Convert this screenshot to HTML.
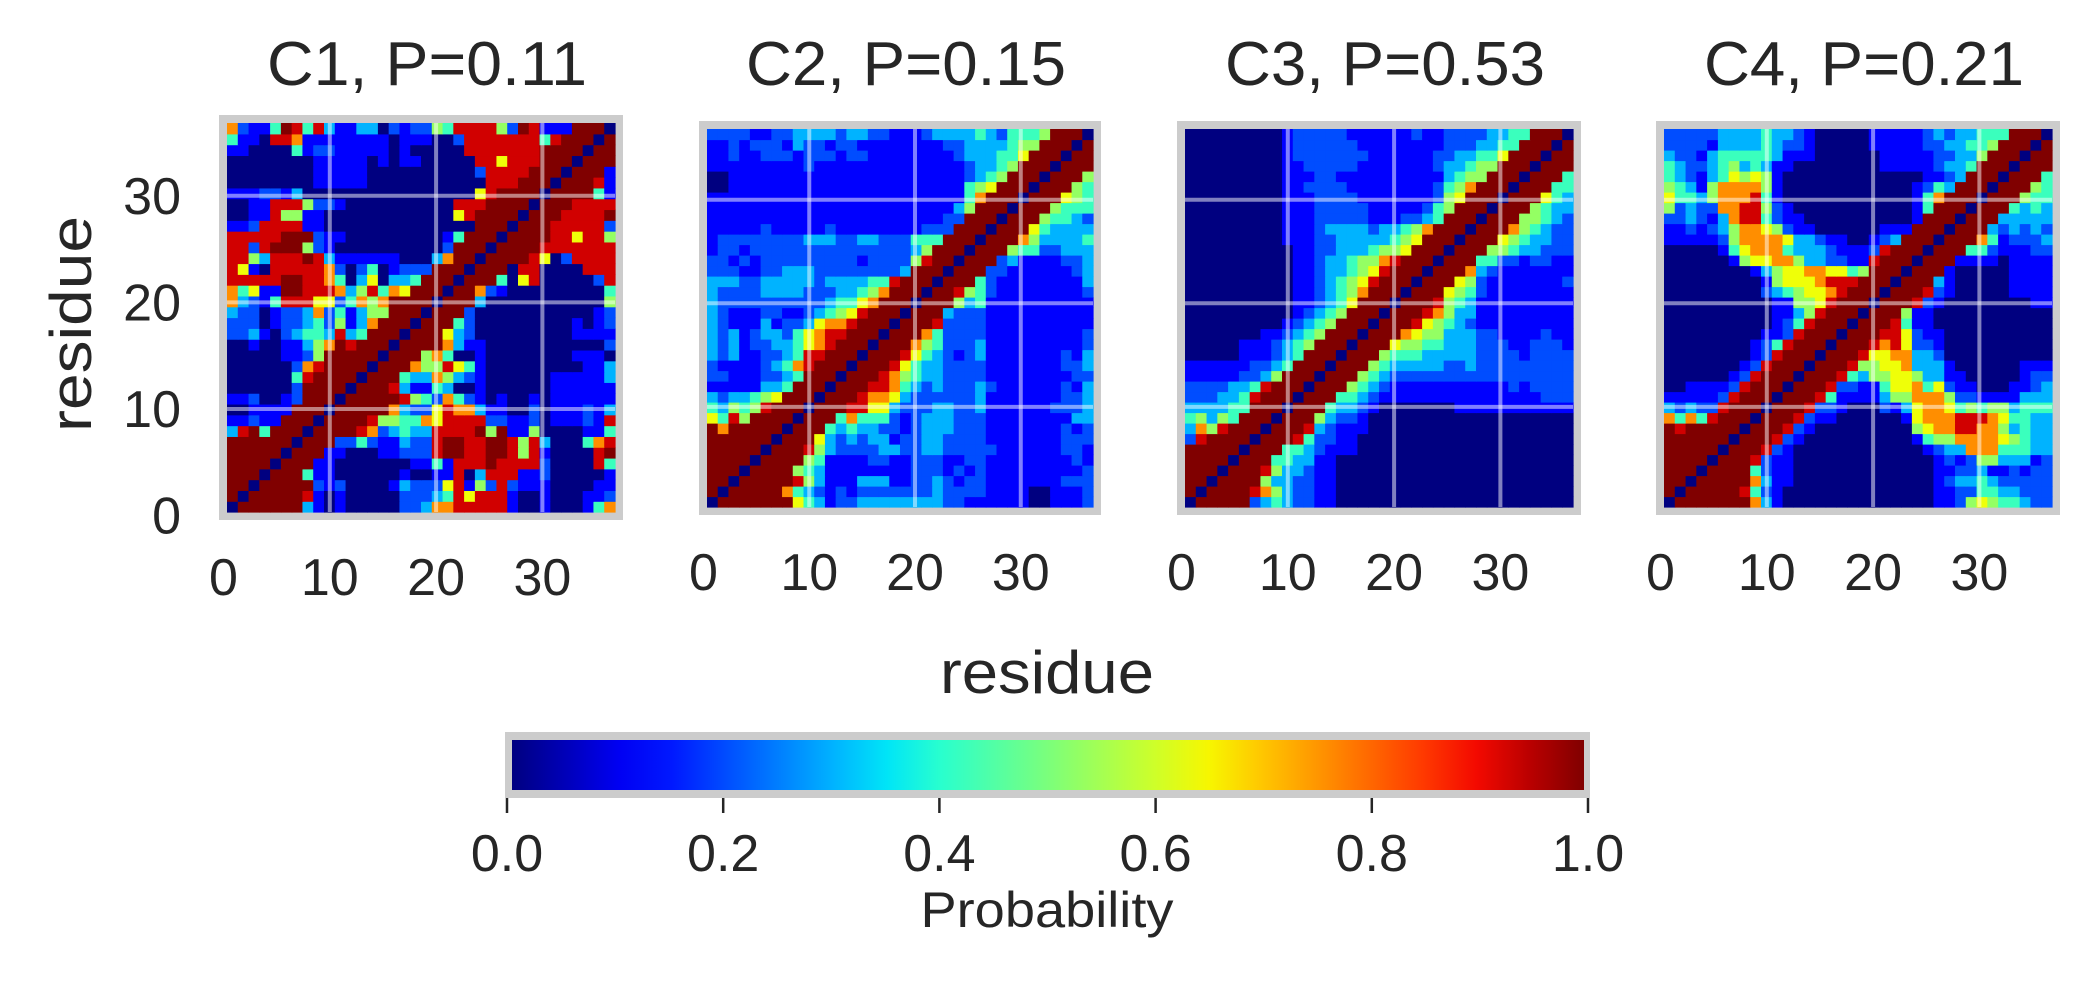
<!DOCTYPE html>
<html><head><meta charset="utf-8"><title>Contact maps</title>
<style>
html,body{margin:0;padding:0;background:#fff;}
svg{display:block;font-family:"Liberation Sans",Arial,sans-serif;}
</style></head>
<body>
<svg id="fig" width="2095" height="984" viewBox="0 0 2095 984" xmlns="http://www.w3.org/2000/svg">
<defs><linearGradient id="jetgrad" x1="0" y1="0" x2="1" y2="0"></linearGradient></defs>
<rect x="0" y="0" width="2095" height="984" fill="#ffffff"/>
</svg>
<script>
// ---- chart data ----
const panelTitles = ["C1, P=0.11", "C2, P=0.15", "C3, P=0.53", "C4, P=0.21"];
const axisTicks = [0, 10, 20, 30];
const gridValues = [10, 20, 30];
const colorbarTicks = [0.0, 0.2, 0.4, 0.6, 0.8, 1.0];
const colorbarTickLabels = ["0.0", "0.2", "0.4", "0.6", "0.8", "1.0"];
const levels = [0, 0.11, 0.2, 0.3, 0.42, 0.53, 0.64, 0.76, 0.93, 1.0];
// lower-triangle rows: row y holds values for x = 0..y (symmetric matrix)
const c1Rows = ["0","90","990","9990","99990","999990","9999990","38949990","112119990","0011119990",
"11200129990","000000299990","0000004899990","00000027899990","000001125999990","0010011357989990",
"22310234438349990","222012234251379990","3220122372413559990","73214888662475799990",
"746119988873584769990","8888899887403603349990","86108888872024012229990","885388898311111100037990",
"8828999521000000000029990","88888999211000000000149990","112888811000000000000009990",
"0011855110000000000006899990","00118885221000000000088899990","111221300000000000000006899990",
"0000000011111000000000008889990","00000000111110000000000288889990","000000001111101011000008868889990",
"1100004122111110100000888888899990","41108871111111101110028888888489990","721149848311330212254888852981119990"];
const c2Rows = ["0","90","990","9990","99990","999990","9999990","97999990","648599990","4354589990",
"32334569990","111113349990","2211122349990","21111234789990","323112234889990","3231223346789990",
"32312332467889990","321113122367789990","3211122112345689990","32222222222344679990",
"322223333222334579990","3332233333233334489990","22211223332222222239990","221212222222221222258990",
"1221222222222222222359990","12222222233322332224449990","111112111112111111112229990",
"1111111111111111111111229990","11111111111111111111111359990","111111111111111111111111479990",
"0011111111111111111111114569990","00111111111111111111111123459990","111111111211111111111111233459990",
"1121122212221221111111123334469990","11212221322122111111112233334559990","222211223333233221112333343244459990"];
const c3Rows = ["0","90","990","9990","99990","999990","2899990","37589990","453549990","3333449990",
"22233489990","222233489990","1111122359990","11111122349990","000001112349990","0000011123459990",
"00000001123459990","000000000123459990","0000000000123459990","00000000001123469990",
"000000000011234579990","0000000000112345689990","00000000001123345689990","000000000011233455789990",
"0000000000112233345569990","00000000011122333334569990","000000000111233332334579990",
"0000000001112222211122349990","00000000011122222111112459990","000000000111222211111112569990",
"0000000001122221111111124579990","00000000011122111111111134559990","000000000112222211111112334559990",
"0000000001222222211111122334469990","00000000012222221111111122233449990","000000000122222111111211222233449990"];
const c4Rows = ["0","90","990","9990","99990","999990","9999990","98999990","747489990","3232289990",
"11111289990","001111289990","0000001289990","00000001289990","000000001289990","0000000012489990",
"00000000011289990","000000000012489990","0000000000113589990","00000000001155689990",
"000000000234566789990","0000000001566678889990","00000000135667766459990","000000156677533221189990",
"0000014677743332111289990","11111257777633211001239990","112123577652110000001119990",
"2232137884211000000000019990","52322778852100000000000149990","644357778410000000000001479990",
"5431577775100000000000012439990","43213465651000000000000011239990","432234534311000000001111123349990",
"3221344444311100000011111223359990","22221333343221000001111122334459990","222223333433210000011111232334449990"];
const panelRows = [c1Rows, c2Rows, c3Rows, c4Rows];

// ---- layout ----
const NS = "http://www.w3.org/2000/svg";
const svg = document.getElementById("fig");
const plots = [{x:227,y:123,w:388,h:389,tb:595},{x:707,y:129,w:386,h:378,tb:590},{x:1185,y:129,w:388,h:378,tb:590},{x:1664,y:129,w:388,h:378,tb:590}];
const DLO = 0.33, DHI = 36.83, N = 36;
const TXT = "#262626";

function jet(v){
  v = Math.max(0, Math.min(1, v));
  function interp(pts){
    for (let i=0;i<pts.length-1;i++){
      const a=pts[i], b=pts[i+1];
      if (v>=a[0] && v<=b[0]) return a[1]+(b[1]-a[1])*(v-a[0])/(b[0]-a[0]);
    }
    return pts[pts.length-1][1];
  }
  const r = interp([[0,0],[0.35,0],[0.66,1],[0.89,1],[1,0.5]]);
  const g = interp([[0,0],[0.125,0],[0.375,1],[0.64,1],[0.91,0],[1,0]]);
  const b = interp([[0,0.5],[0.11,1],[0.34,1],[0.65,0],[1,0]]);
  return "rgb("+Math.round(r*255)+","+Math.round(g*255)+","+Math.round(b*255)+")";
}
function mk(tag, attrs, parent){
  const e = document.createElementNS(NS, tag);
  for (const k in attrs) e.setAttribute(k, attrs[k]);
  (parent||svg).appendChild(e);
  return e;
}
function cellValue(rows, x, y){
  const r = x<=y ? rows[y] : rows[x];
  const ch = x<=y ? r.charAt(x) : r.charAt(y);
  const d = parseInt(ch, 10);
  return isNaN(d) ? 0 : levels[d];
}

plots.forEach(function(p, pi){
  const xScale = v => p.x + (v - DLO) / (DHI - DLO) * p.w;
  const yScale = v => p.y + p.h - (v - DLO) / (DHI - DLO) * p.h;
  const g = mk("g", {});
  
  
  const frame = mk("rect", {x:p.x-8, y:p.y-8, width:p.w+16, height:p.h+16, fill:"#cccccc"}, g);
  
  
  const rows = panelRows[pi];
  const cw = (DHI - DLO) / N;
  for (let y=0; y<N; y++){
    for (let x=0; x<N; x++){
      const x0 = xScale(DLO + x*cw), x1 = xScale(DLO + (x+1)*cw);
      const y0 = yScale(DLO + (y+1)*cw), y1 = yScale(DLO + y*cw);
      const c = mk("rect", {x:x0.toFixed(2), y:y0.toFixed(2), width:(x1-x0+0.6).toFixed(2), height:(y1-y0+0.6).toFixed(2), fill:jet(cellValue(rows,x,y))}, g);
      
      
    }
  }
  gridValues.forEach(function(v){
    const vl = mk("line", {x1:xScale(v), x2:xScale(v), y1:p.y, y2:p.y+p.h, stroke:"rgba(255,255,255,0.5)", "stroke-width":4}, g);
    
    
    const hl = mk("line", {x1:p.x, x2:p.x+p.w, y1:yScale(v), y2:yScale(v), stroke:"rgba(255,255,255,0.5)", "stroke-width":4}, g);
    
    
  });
  const t = mk("text", {x:p.x+p.w/2+6, y:85, "text-anchor":"middle", "font-size":62, fill:TXT, textLength:320, lengthAdjust:"spacingAndGlyphs"}, g);
  t.textContent = panelTitles[pi];
  
  
  axisTicks.forEach(function(v){
    const lbl = mk("text", {x:xScale(v), y:p.tb, "text-anchor":"middle", "font-size":52, fill:TXT}, g);
    lbl.textContent = String(v);
    
    
  });
  if (pi === 0){
    axisTicks.forEach(function(v){
      const lbl = mk("text", {x:181, y:yScale(v)+18, "text-anchor":"end", "font-size":52, fill:TXT}, g);
      lbl.textContent = String(v);
      
      
    });
  }
});

// axis titles
const yt = mk("text", {x:0, y:0, transform:"translate(91,324) rotate(-90)", "text-anchor":"middle", "font-size":58, fill:TXT, textLength:216, lengthAdjust:"spacingAndGlyphs"});
yt.textContent = "residue";


const xt = mk("text", {x:1047, y:693, "text-anchor":"middle", "font-size":60, fill:TXT, textLength:214, lengthAdjust:"spacingAndGlyphs"});
xt.textContent = "residue";



// colorbar
const grad = document.getElementById("jetgrad");
for (let i=0;i<=20;i++){
  mk("stop", {offset:(i/20), "stop-color":jet(i/20)}, grad);
}
const cbScale = v => 507 + v * 1081;
const cbFrame = mk("rect", {x:505, y:732, width:1085, height:66, fill:"#cccccc"});


const cb = mk("rect", {x:512, y:740, width:1072, height:50, fill:"url(#jetgrad)"});


colorbarTicks.forEach(function(v, i){
  const tk = mk("line", {x1:cbScale(v), x2:cbScale(v), y1:798, y2:813, stroke:TXT, "stroke-width":2.5});
  
  
  const lb = mk("text", {x:cbScale(v), y:871, "text-anchor":"middle", "font-size":52, fill:TXT});
  lb.textContent = colorbarTickLabels[i];
  
  
});
const cbl = mk("text", {x:1047, y:927, "text-anchor":"middle", "font-size":50, fill:TXT, textLength:253, lengthAdjust:"spacingAndGlyphs"});
cbl.textContent = "Probability";


</script>
</body></html>
